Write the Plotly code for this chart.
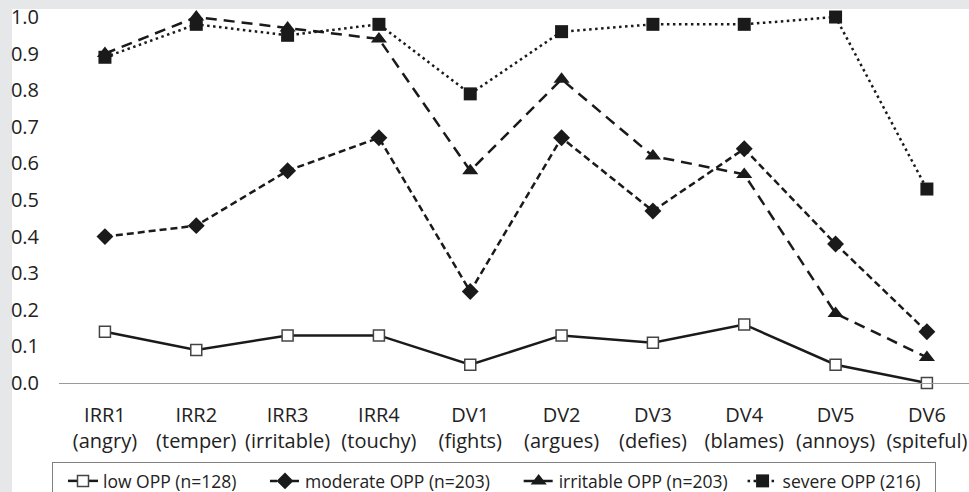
import plotly.graph_objects as go

categories = ["IRR1<br>(angry)", "IRR2<br>(temper)", "IRR3<br>(irritable)", "IRR4<br>(touchy)",
              "DV1<br>(fights)", "DV2<br>(argues)", "DV3<br>(defies)", "DV4<br>(blames)",
              "DV5<br>(annoys)", "DV6<br>(spiteful)"]
low_opp = [0.14, 0.09, 0.13, 0.13, 0.05, 0.13, 0.11, 0.16, 0.05, 0.00]
moderate_opp = [0.40, 0.43, 0.58, 0.67, 0.25, 0.67, 0.47, 0.64, 0.38, 0.14]
irritable_opp = [0.90, 1.00, 0.97, 0.94, 0.58, 0.83, 0.62, 0.57, 0.19, 0.07]
severe_opp = [0.89, 0.98, 0.95, 0.98, 0.79, 0.96, 0.98, 0.98, 1.00, 0.53]
series_names = ["low OPP (n=128)", "moderate OPP (n=203)", "irritable OPP (n=203)", "severe OPP (216)"]
y_ticks = [0.0, 0.1, 0.2, 0.3, 0.4, 0.5, 0.6, 0.7, 0.8, 0.9, 1.0]

FONT = "Open Sans, Liberation Sans, sans-serif"
INK = "#1a1a1a"
PAD = "\u00a0"
xidx = list(range(len(categories)))

fig = go.Figure()
fig.add_trace(go.Scatter(
    x=xidx, y=low_opp, name=series_names[0] + PAD * 3, mode="lines+markers", cliponaxis=False,
    line=dict(color=INK, width=2.5),
    marker=dict(symbol="square", size=11, color="white", line=dict(color="#444444", width=1.5)),
))
fig.add_trace(go.Scatter(
    x=xidx, y=moderate_opp, name=series_names[1] + PAD * 3, mode="lines+markers", cliponaxis=False,
    line=dict(color=INK, width=2.5, dash="7px,4px"),
    marker=dict(symbol="diamond", size=13, color=INK),
))
fig.add_trace(go.Scatter(
    x=xidx, y=irritable_opp, name=series_names[2], mode="lines+markers", cliponaxis=False,
    line=dict(color=INK, width=2.5, dash="11px,7px"),
    marker=dict(symbol="triangle-up", size=14, color=INK),
))
fig.add_trace(go.Scatter(
    x=xidx, y=severe_opp, name=series_names[3] + PAD * 2, mode="lines+markers", cliponaxis=False,
    line=dict(color=INK, width=2.5, dash="2.5px,3.5px"),
    marker=dict(symbol="square", size=13, color=INK),
))

W, H = 969, 492
L, R, T, B = 59, 0, 9, 109
pw, ph = W - L - R, H - T - B

def px_x(p):
    return (p - L) / pw

def px_y(p):
    return (H - B - p) / ph

fig.add_shape(type="rect", xref="paper", yref="paper", layer="below",
              x0=px_x(12), x1=px_x(975), y0=px_y(520), y1=px_y(9),
              fillcolor="white", line=dict(width=0))

fig.update_layout(
    width=W, height=H,
    margin=dict(l=L, r=R, t=T, b=B, pad=0, autoexpand=False),
    paper_bgcolor="#e6e7e9", plot_bgcolor="white",
    font=dict(family=FONT, color="#222222", size=20),
    showlegend=True,
    legend=dict(orientation="h", x=px_x(52), xanchor="left", y=px_y(462), yanchor="top",
                bordercolor="#808080", borderwidth=1, bgcolor="white", indentation=10,
                font=dict(size=17.5, family=FONT, color="#222222"), traceorder="normal"),
    xaxis=dict(range=[-0.503, 9.461], tickmode="array", tickvals=xidx, ticktext=categories,
               automargin=False,
               showgrid=False, zeroline=False, showline=True, linecolor="#9a9a9a", linewidth=1,
               ticks="outside", ticklen=14, tickcolor="rgba(0,0,0,0)",
               tickfont=dict(size=20, family=FONT, color="#222222")),
    yaxis=dict(range=[0, 1.0219], tickmode="array", tickvals=y_ticks,
               ticktext=[f"{v:.1f}" for v in y_ticks], automargin=False,
               showgrid=False, zeroline=False, showline=False,
               ticks="outside", ticklen=15, tickcolor="rgba(0,0,0,0)",
               tickfont=dict(size=20, family=FONT, color="#222222")),
)

fig.write_html("out.html", config={"displayModeBar": False},
               post_script="document.body.style.margin='0';document.body.style.overflow='hidden';")
